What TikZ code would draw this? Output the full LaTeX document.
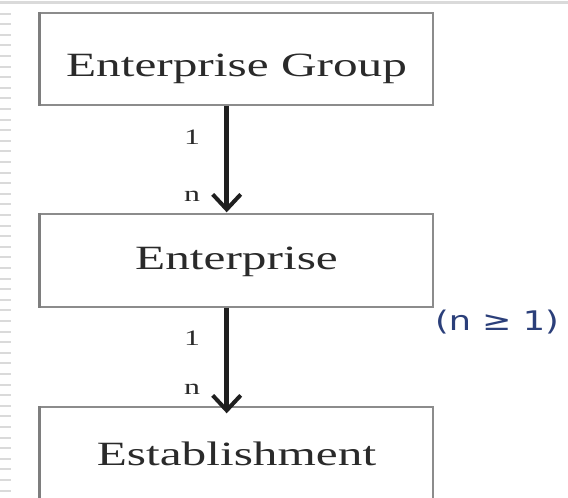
\documentclass[tikz,border=0pt]{standalone}
\usepackage{fontspec}
\setmainfont{Liberation Serif}
\newfontfamily\widefont[FakeStretch=1.45]{Liberation Serif}
\newfontfamily\widesans[FakeStretch=1.3]{DejaVu Sans}
\usetikzlibrary{arrows.meta,calc}
\definecolor{boxline}{HTML}{8C8C8C}
\definecolor{boxtext}{HTML}{2A2A2A}
\definecolor{notecol}{HTML}{2B3F7A}
\definecolor{rulegrey}{HTML}{DADADA}
\tikzset{
  entity/.style={draw=boxline, line width=1.4pt, rectangle, inner sep=0pt,
    minimum width=393pt, anchor=base, text=boxtext,
    font=\widefont\fontsize{34}{36}\selectfont},
  leftedge/.style={draw=boxline!90!black, line width=3.2pt},
  card/.style={inner sep=0pt, text=boxtext, font=\widefont\fontsize{22}{24}\selectfont},
  relarrow/.style={line width=5pt, draw=black!88,
    -{Straight Barb[width=28pt,length=15pt,line width=4pt]}},
  tick/.style={draw=rulegrey, line width=2pt}
}
\begin{document}
\begin{tikzpicture}[x=1pt,y=-1pt]
\clip (0,0) rectangle (568,498);
\fill[white] (0,0) rectangle (568,498);
% screenshot frame: top rule and left ruler ticks
\draw[draw=rulegrey, line width=3pt] (0,2) -- (568,2);
\foreach \k in {0,...,46} {
  \draw[tick] (0,{13.5+10.6*\k}) -- (11,{13.5+10.6*\k});
}
% boxes
\node[entity, text height=63pt, text depth=29pt] (grp) at (236.5,76) {Enterprise Group};
\node[entity, text height=55pt, text depth=38pt] (ent) at (236.5,269) {Enterprise};
\node[entity, text height=58pt, text depth=45pt] (est) at (236.5,465) {Establishment};
\draw[leftedge] (grp.north west) -- (grp.south west);
\draw[leftedge] (ent.north west) -- (ent.south west);
\draw[leftedge] (est.north west) -- (est.south west);
% arrows
\coordinate (ax) at (226.7,0);
\draw[relarrow] (ax |- grp.south) -- ($(ax |- ent.north)+(0,-1)$);
\draw[relarrow] (ax |- ent.south) -- ($(ax |- est.north)+(0,7)$);
% cardinalities
\node[card] (c1a) at (192,137) {1};
\node[card] (c1b) at (192,196) {n};
\node[card] (c2a) at (192,338) {1};
\node[card] (c2b) at (192,389) {n};
% note
\node[text=notecol, font=\widesans\fontsize{27}{30}\selectfont, inner sep=0pt] (note) at (497,322) {(n ≥ 1)};
\end{tikzpicture}
\end{document}
